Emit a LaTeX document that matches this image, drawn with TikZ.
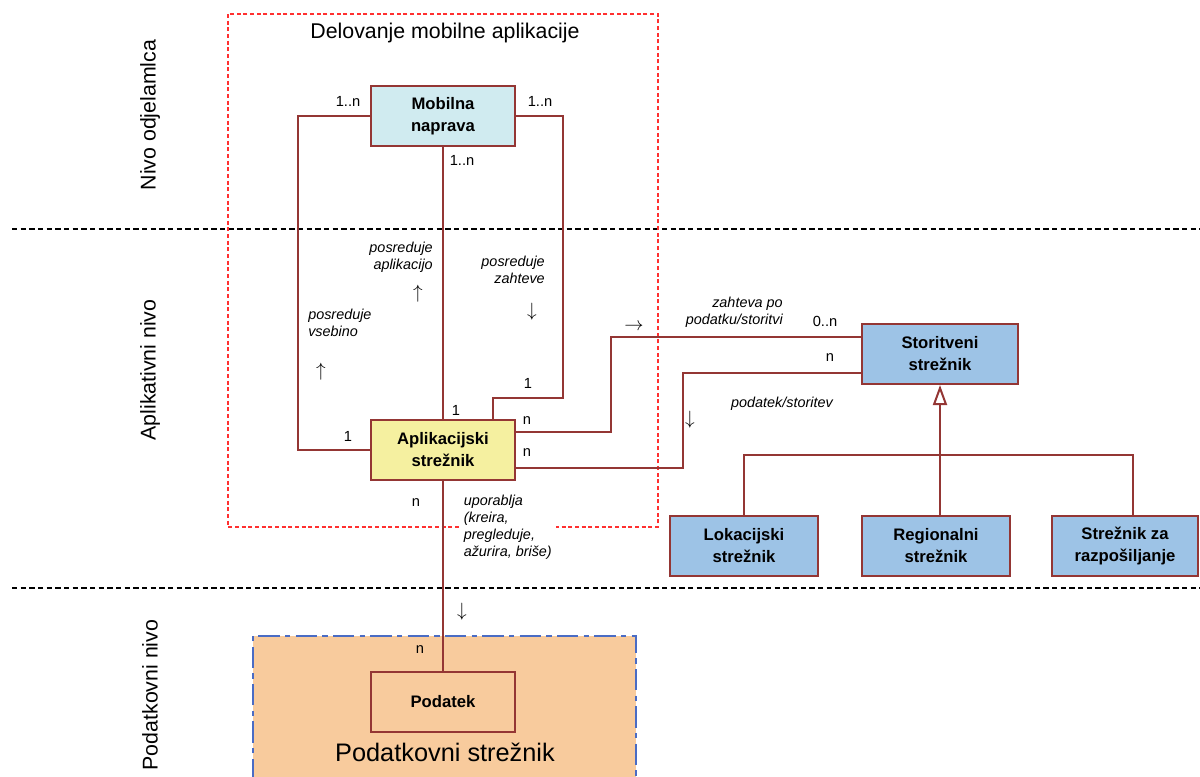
\documentclass[tikz,border=0pt]{standalone}
\usepackage{fontspec}
\setmainfont{Liberation Sans}
\usetikzlibrary{arrows.meta}

\definecolor{conn}{HTML}{943634}
\definecolor{mobfill}{HTML}{D0EBF0}
\definecolor{appfill}{HTML}{F5F0A0}
\definecolor{srvfill}{HTML}{9DC3E6}
\definecolor{datafill}{HTML}{F8CB9D}
\definecolor{databorder}{HTML}{4A6CC4}
\definecolor{framered}{HTML}{FF3030}

\tikzset{
  umlbox/.style={draw=conn, line width=1.5pt, minimum width=108pt, minimum height=45pt,
    align=center, font=\fontsize{12.5}{16.5}\selectfont\bfseries, inner sep=0pt},
  wire/.style={draw=conn, line width=1.5pt},
  mult/.style={font=\fontsize{11}{13}\selectfont, inner sep=0pt},
  role/.style={font=\fontsize{10.8}{12.8}\selectfont\itshape, inner sep=0pt},
  dirarrow/.style={font=\fontsize{15}{17}\selectfont, inner sep=0pt},
  levelline/.style={draw=black, line width=1pt, dash pattern=on 4pt off 2.5pt},
  levellabel/.style={rotate=90, font=\fontsize{16}{19}\selectfont, inner sep=0pt},
}

\begin{document}
\begin{tikzpicture}[x=0.75pt, y=-0.75pt]
\useasboundingbox (0,0) rectangle (1200,776);

% tier separators
\draw[levelline] (12,229) -- (1200,229);
\draw[levelline] (12,588) -- (1200,588);

% tier names
\node[levellabel] (tierClient) at (150,115) {Nivo odjelamlca};
\node[levellabel] (tierApp) at (150,370) {Aplikativni nivo};
\node[levellabel] (tierData) at (150,695) {Podatkovni nivo};

% data server area
\fill[datafill] (253,636) rectangle (636,780);
\draw[databorder, line width=1pt, dash pattern=on 16pt off 4pt on 4pt off 4pt]
  (253,780) -- (253,636) -- (636,636) -- (636,780);
\node[font=\fontsize{19}{22}\selectfont, inner sep=0pt] (srvTitle) at (445,752) {Podatkovni strežnik};

% mobile application frame
\draw[framered, line width=0.8pt, dash pattern=on 3pt off 2pt] (228,14) rectangle (658,527);
\node[font=\fontsize{16}{19}\selectfont, inner sep=0pt] (frameTitle) at (445,33) {Delovanje mobilne aplikacije};

% classes
\node[umlbox, fill=mobfill] (mob) at (443,116) {Mobilna\\naprava};
\node[umlbox, fill=appfill] (app) at (443,450) {Aplikacijski\\strežnik};
\node[umlbox, fill=srvfill, minimum width=117pt] (stor) at (940,354) {Storitveni\\strežnik};
\node[umlbox, fill=srvfill, minimum width=111pt] (lok) at (744,546) {Lokacijski\\strežnik};
\node[umlbox, fill=srvfill, minimum width=111pt] (reg) at (936,546) {Regionalni\\strežnik};
\node[umlbox, fill=srvfill, minimum width=109.5pt] (raz) at (1125,546) {Strežnik za\\razpošiljanje};
\node[umlbox] (pod) at (443,702) {Podatek};

% associations between mobile device and application server
\draw[wire] (mob.west) -- ++(-72,0) |- (app.west);
\draw[wire] (mob.east) -| (563,398) -| ([xshift=37.5pt]app.north);
\draw[wire] (mob.south) -- (app.north);

% application server to service server
\draw[wire] ([yshift=13.5pt]app.east) -| (611,337) -- ([yshift=12.75pt]stor.west);
\draw[wire] ([yshift=-13.5pt]app.east) -| (683,373) -- ([yshift=-14.25pt]stor.west);

% generalisation of service servers
\coordinate (junc) at (940,455);
\draw[wire] (lok.north) |- (junc) -| ([xshift=6pt]raz.north);
\draw[wire] (junc) -- (junc |- reg.north);
\draw[wire, -{Triangle[open, length=15pt, width=10.5pt, fill=white]}] (junc) -- (stor.south);

% application server uses data
\draw[wire] (app.south) -- (pod.north);

% multiplicities
\node[mult] (m1) at (348,101) {1..n};
\node[mult] (m2) at (540,101) {1..n};
\node[mult] (m3) at (462,160) {1..n};
\node[mult] (m4) at (348,436) {1};
\node[mult] (m5) at (528,383) {1};
\node[mult] (m6) at (456,410) {1};
\node[mult] (m7) at (527,421) {n};
\node[mult] (m8) at (527,453) {n};
\node[mult] (m9) at (825,321) {0..n};
\node[mult] (m10) at (830,358) {n};
\node[mult] (m11) at (416,503) {n};
\node[mult] (m12) at (420,650) {n};

% role names
\node[role, align=right, anchor=east] (r1) at (433,257) {posreduje\\aplikacijo};
\node[role, align=right, anchor=east] (r2) at (545,270) {posreduje\\zahteve};
\node[role, align=left, anchor=west] (r3) at (308,323) {posreduje\\vsebino};
\node[role, align=right, anchor=east] (r4) at (783,312) {zahteva po\\podatku/storitvi};
\node[role] (r5) at (782,404) {podatek/storitev};
\node[role, align=left, anchor=west, fill=white, inner xsep=3pt, inner ysep=0pt] (r6) at (459.5,527) {uporablja\\(kreira,\\pregleduje,\\ažurira, briše)};

% direction markers
\node[dirarrow] (a1) at (418,294) {$\uparrow$};
\node[dirarrow] (a2) at (321,372) {$\uparrow$};
\node[dirarrow] (a3) at (532,312) {$\downarrow$};
\node[dirarrow] (a4) at (690,420) {$\downarrow$};
\node[dirarrow] (a5) at (462,612) {$\downarrow$};
\node[dirarrow] (a6) at (634,327) {$\rightarrow$};
\end{tikzpicture}
\end{document}
